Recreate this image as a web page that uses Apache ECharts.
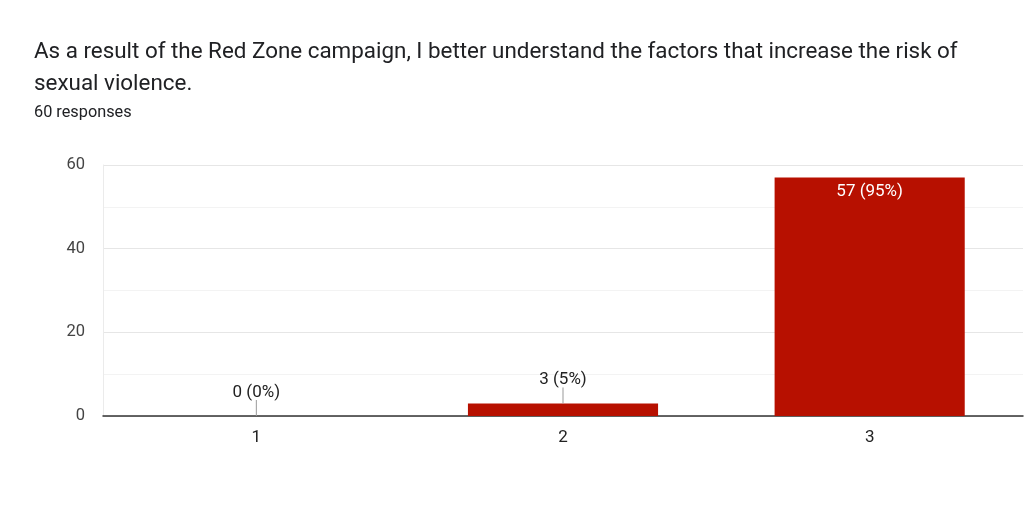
<!DOCTYPE html>
<html>
<head>
<meta charset="utf-8">
<script src="https://cdn.jsdelivr.net/npm/echarts@6/dist/echarts.min.js"></script>
<style>
html,body{margin:0;padding:0;background:#fff;}
#chart{width:1024px;height:520px;}
</style>
</head>
<body>
<div id="chart"></div>
<script>
var titleText = 'As a result of the Red Zone campaign, I better understand the factors that increase the risk of\nsexual violence.';
var subtitleText = '60 responses';
var categories = ['1', '2', '3'];
var counts = [0, 3, 57];
var percents = [0, 5, 95];
var yTicks = [0, 20, 40, 60];

var INSIDE_MIN = 10;
var barColor = '#b71000';

var barData = counts.map(function (v, i) {
  var inside = v >= INSIDE_MIN;
  return {
    value: v,
    label: inside
      ? { position: 'insideTop', distance: 6, color: '#ffffff' }
      : { position: 'top', distance: 15, color: '#222222' }
  };
});

var leaderData = counts.map(function (v, i) { return [i, v]; })
  .filter(function (d) { return d[1] < INSIDE_MIN; });

var chart = echarts.init(document.getElementById('chart'), null, { renderer: 'canvas' });
chart.setOption({
  backgroundColor: '#ffffff',
  animation: false,
  title: [{
    text: titleText,
    left: 34, top: 36, padding: 0,
    textStyle: { fontFamily: 'Roboto', fontSize: 22.4, fontWeight: 'normal', color: '#202124', lineHeight: 32 }
  }, {
    text: subtitleText,
    left: 34, top: 105, padding: 0,
    textStyle: { fontFamily: 'Roboto', fontSize: 16.3, fontWeight: 'normal', color: '#202124' }
  }],
  grid: { left: 103, right: 1, top: 165, bottom: 104, containLabel: false },
  xAxis: {
    type: 'category',
    data: categories,
    axisLine: { show: true, lineStyle: { color: '#333333', width: 1.5 } },
    axisTick: { show: false },
    axisLabel: { fontFamily: 'Roboto', fontSize: 17, color: '#222222', margin: 13 },
    splitLine: { show: false }
  },
  yAxis: {
    type: 'value',
    min: yTicks[0], max: yTicks[yTicks.length - 1], interval: yTicks[1] - yTicks[0],
    axisLine: { show: true, lineStyle: { color: '#ebebeb' } },
    axisTick: { show: false },
    axisLabel: { fontFamily: 'Roboto', fontSize: 16.5, color: '#444444', margin: 18 },
    splitLine: { show: true, lineStyle: { color: '#e6e6e6', width: 1 } },
    minorTick: { show: false, splitNumber: 2 },
    minorSplitLine: { show: true, lineStyle: { color: '#f3f3f3', width: 1 } }
  },
  series: [{
    type: 'bar',
    data: barData,
    barWidth: '62%',
    itemStyle: { color: barColor },
    label: {
      show: true,
      fontFamily: 'Roboto',
      fontSize: 17,
      formatter: function (p) { return counts[p.dataIndex] + ' (' + percents[p.dataIndex] + '%)'; }
    },
    z: 2
  }, {
    type: 'custom',
    data: leaderData,
    renderItem: function (params, api) {
      var p = api.coord([api.value(0), api.value(1)]);
      return {
        type: 'line',
        shape: { x1: p[0], y1: p[1] - 16, x2: p[0], y2: p[1] },
        style: { stroke: '#999999', lineWidth: 1 }
      };
    },
    z: 3,
    silent: true
  }]
});
</script>
</body>
</html>
